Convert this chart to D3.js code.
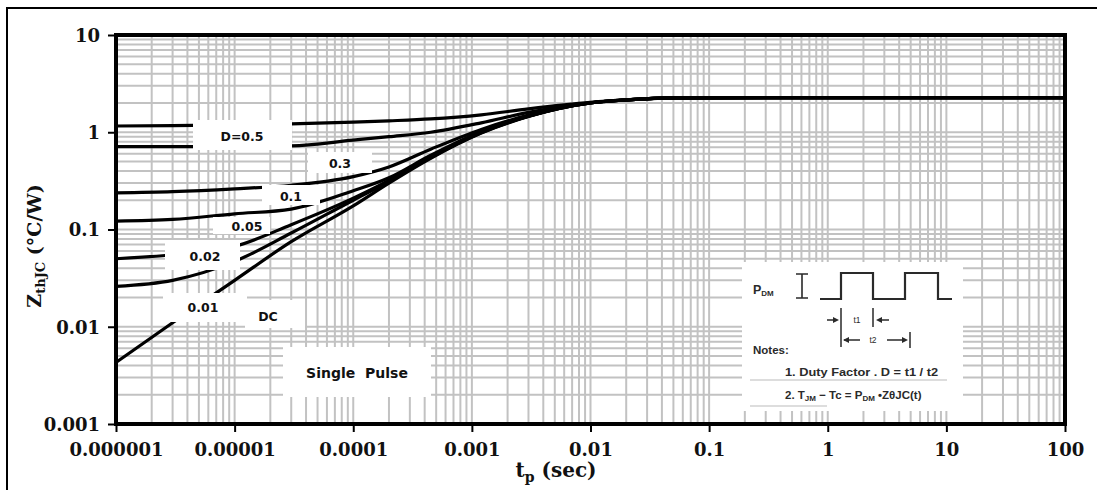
<!DOCTYPE html>
<html>
<head>
<meta charset="utf-8">
<script src="https://cdn.jsdelivr.net/npm/d3@7"></script>
<style>
  html, body { margin: 0; padding: 0; background: #fff; }
  svg { display: block; }
</style>
</head>
<body>
<svg id="chart" width="1097" height="490"></svg>
<script>
// ---------------- DATA ----------------
const xTicks = [1e-6, 1e-5, 1e-4, 1e-3, 1e-2, 1e-1, 1, 10, 100];
const xTickLabels = ["0.000001", "0.00001", "0.0001", "0.001", "0.01", "0.1", "1", "10", "100"];
const yTicks = [0.001, 0.01, 0.1, 1, 10];
const yTickLabels = ["0.001", "0.01", "0.1", "1", "10"];

const seriesNames = ["D=0.5", "0.3", "0.1", "0.05", "0.02", "0.01", "DC"];
const tp = [1e-6, 3e-6, 1e-5, 3e-5, 1e-4, 2e-4, 4.5e-4, 1.2e-3, 3e-3, 1e-2, 2e-2, 5e-2, 1, 100];
const zD05 = [1.16, 1.17, 1.19, 1.22, 1.27, 1.31, 1.37, 1.51, 1.74, 2.03, 2.15, 2.26, 2.27, 2.27];
const zD03 = [0.71, 0.71, 0.715, 0.725, 0.83, 0.90, 1.00, 1.25, 1.60, 2.01, 2.15, 2.26, 2.27, 2.27];
const zD01 = [0.238, 0.245, 0.262, 0.285, 0.35, 0.44, 0.67, 1.07, 1.50, 2.01, 2.15, 2.26, 2.27, 2.27];
const zD005 = [0.122, 0.127, 0.145, 0.162, 0.25, 0.34, 0.58, 1.02, 1.47, 2.00, 2.15, 2.26, 2.27, 2.27];
const zD002 = [0.050, 0.055, 0.067, 0.112, 0.21, 0.32, 0.56, 1.00, 1.46, 2.00, 2.15, 2.26, 2.27, 2.27];
const zD001 = [0.026, 0.030, 0.047, 0.092, 0.20, 0.31, 0.55, 0.99, 1.46, 2.00, 2.15, 2.26, 2.27, 2.27];
const zDC = [0.0043, 0.011, 0.030, 0.075, 0.175, 0.30, 0.54, 0.98, 1.45, 2.00, 2.15, 2.26, 2.27, 2.27];
const seriesValues = [zD05, zD03, zD01, zD005, zD002, zD001, zDC];

// ---------------- LAYOUT ----------------
const svg = d3.select("#chart");
const L = 116, R = 1065, T = 35, B = 424;
const x = d3.scaleLog().domain([1e-6, 100]).range([L, R]);
const y = d3.scaleLog().domain([0.001, 10]).range([B, T]);

svg.append("rect").attr("width", 1097).attr("height", 490).attr("fill", "#fff");
// outer border
svg.append("rect").attr("x", 7).attr("y", 8).attr("width", 1200).attr("height", 600)
  .attr("fill", "none").attr("stroke", "#000").attr("stroke-width", 2);

// grid
const grid = svg.append("g").attr("stroke", "#c2c2c2").attr("stroke-width", 2);
x.ticks().forEach(v => {
  grid.append("line").attr("x1", x(v)).attr("x2", x(v)).attr("y1", T).attr("y2", B);
});
y.ticks().forEach(v => {
  grid.append("line").attr("x1", L).attr("x2", R).attr("y1", y(v)).attr("y2", y(v));
});

// curves
const line = d3.line().x(d => x(d[0])).y(d => y(d[1])).curve(d3.curveMonotoneX);
seriesValues.forEach((vals, i) => {
  svg.append("path")
    .datum(tp.map((t, j) => [t, vals[j]]))
    .attr("d", line)
    .attr("fill", "none")
    .attr("stroke", "#000")
    .attr("stroke-width", 3.2)
    .attr("stroke-linejoin", "round");
});

// label boxes (white) and texts
const boxes = [
  {x0: 193, x1: 292, y0: 120, y1: 150},
  {x0: 308, x1: 372, y0: 152, y1: 173},
  {x0: 262, x1: 320, y0: 185, y1: 205},
  {x0: 213, x1: 270, y0: 217, y1: 234},
  {x0: 165, x1: 240, y0: 240, y1: 270},
  {x0: 163, x1: 247, y0: 293, y1: 322},
  {x0: 245, x1: 305, y0: 300, y1: 328},
  {x0: 283, x1: 431, y0: 347, y1: 397},
  {x0: 742, x1: 963, y0: 262, y1: 411}
];
boxes.forEach(b => {
  svg.append("rect").attr("x", b.x0).attr("y", b.y0)
    .attr("width", b.x1 - b.x0).attr("height", b.y1 - b.y0).attr("fill", "#fff");
});
const labelPos = [[242, 136], [340, 163], [291, 196], [247, 226], [205, 256], [203, 307], [268, 316]];
seriesNames.forEach((n, i) => {
  svg.append("text").attr("x", labelPos[i][0]).attr("y", labelPos[i][1] + 4.5)
    .attr("text-anchor", "middle")
    .attr("font-family", "DejaVu Sans, sans-serif").attr("font-weight", "bold")
    .attr("font-size", 12.5).attr("fill", "#111").text(n);
});
svg.append("text").attr("x", 357).attr("y", 378).attr("text-anchor", "middle")
  .attr("font-family", "DejaVu Sans, sans-serif").attr("font-weight", "bold")
  .attr("font-size", 14).attr("fill", "#111").style("white-space", "pre").text("Single  Pulse");

// ---------------- INSET ----------------
const ins = svg.append("g");
const ink = "#2a2a2a";
ins.append("text").attr("x", 753).attr("y", 294).attr("font-family", "Liberation Sans, Arial, sans-serif")
  .attr("font-weight", "bold").attr("font-size", 12.5).attr("fill", ink)
  .call(t => { t.append("tspan").text("P"); t.append("tspan").attr("font-size", 8).attr("dy", 2).text("DM"); });
// I-beam
ins.append("path").attr("d", "M796,274H808M802,274V298M796,298H808").attr("stroke", ink).attr("stroke-width", 1.6).attr("fill", "none");
// waveform
ins.append("path").attr("d", "M820,299H841V273H873V299H905V273H938V299H952")
  .attr("stroke", ink).attr("stroke-width", 2.2).attr("fill", "none");
// t1 / t2 markers
ins.append("path").attr("d", "M841,308V347M873,308V327M910,332V348M827,320H837M889,320H878M860,340H844M887,340H906")
  .attr("stroke", ink).attr("stroke-width", 1.5).attr("fill", "none");
const arrowHead = (px, py, dir) => {
  ins.append("path").attr("d", `M${px},${py}L${px - dir * 6},${py - 3}L${px - dir * 6},${py + 3}Z`).attr("fill", ink);
};
arrowHead(839, 320, 1); arrowHead(876, 320, -1); arrowHead(843, 340, -1); arrowHead(908, 340, 1);
ins.append("text").attr("x", 857).attr("y", 323).attr("text-anchor", "middle")
  .attr("font-family", "Liberation Sans, Arial, sans-serif").attr("font-size", 8.5).attr("fill", ink).text("t1");
ins.append("text").attr("x", 873).attr("y", 343).attr("text-anchor", "middle")
  .attr("font-family", "Liberation Sans, Arial, sans-serif").attr("font-size", 8.5).attr("fill", ink).text("t2");
ins.append("text").attr("x", 753).attr("y", 354).attr("font-family", "Liberation Sans, Arial, sans-serif")
  .attr("font-weight", "bold").attr("font-size", 11.5).attr("fill", ink).text("Notes:");
ins.append("text").attr("x", 785).attr("y", 376).attr("font-family", "Liberation Sans, Arial, sans-serif")
  .attr("font-weight", "bold").attr("font-size", 11.5).attr("fill", ink)
  .attr("textLength", 153).attr("lengthAdjust", "spacingAndGlyphs").text("1. Duty Factor . D = t1 / t2");
ins.append("text").attr("x", 785).attr("y", 399).attr("font-family", "Liberation Sans, Arial, sans-serif")
  .attr("font-weight", "bold").attr("font-size", 11.5).attr("fill", ink)
  .call(t => {
    t.append("tspan").text("2. T");
    t.append("tspan").attr("font-size", 8).attr("dy", 2).text("JM");
    t.append("tspan").attr("dy", -2).text(" \u2212 Tc = P");
    t.append("tspan").attr("font-size", 8).attr("dy", 2).text("DM");
    t.append("tspan").attr("dy", -2).text(" \u2022Z\u03B8JC(t)");
  });
ins.append("line").attr("x1", 750).attr("x2", 947).attr("y1", 380).attr("y2", 380).attr("stroke", "#bbb").attr("stroke-width", 1.2);
ins.append("line").attr("x1", 750).attr("x2", 827).attr("y1", 406).attr("y2", 406).attr("stroke", "#bbb").attr("stroke-width", 1.2);

// ---------------- AXES ----------------
const xAxis = d3.axisBottom(x).tickValues(xTicks).tickFormat((d, i) => xTickLabels[i]).tickSize(8).tickPadding(11);
const yAxis = d3.axisLeft(y).tickValues(yTicks).tickFormat((d, i) => yTickLabels[i]).tickSize(8).tickPadding(8);
const gx = svg.append("g").attr("transform", `translate(0,${B})`).call(xAxis);
const gy = svg.append("g").attr("transform", `translate(${L},0)`).call(yAxis);
[gx, gy].forEach(g => {
  g.select(".domain").remove();
  g.selectAll(".tick line").attr("stroke", "#000").attr("stroke-width", 2);
  g.selectAll(".tick text").attr("font-family", "DejaVu Serif, serif").attr("font-weight", "bold")
    .attr("font-size", 18).attr("fill", "#111");
});
gy.selectAll(".tick text").attr("dy", "0.36em");

// frame
svg.append("rect").attr("x", L).attr("y", T).attr("width", R - L).attr("height", B - T)
  .attr("fill", "none").attr("stroke", "#000").attr("stroke-width", 4);

// axis titles
svg.append("text").attr("transform", "translate(41,246) rotate(-90)").attr("text-anchor", "middle")
  .attr("font-family", "DejaVu Serif, serif").attr("font-weight", "bold").attr("font-size", 19).attr("fill", "#111")
  .call(t => {
    t.append("tspan").text("Z");
    t.append("tspan").attr("font-size", 13).attr("dy", 4).text("thJC");
    t.append("tspan").attr("dy", -4).text(" (\u00B0C/W)");
  });
svg.append("text").attr("x", 556).attr("y", 477).attr("text-anchor", "middle")
  .attr("font-family", "DejaVu Serif, serif").attr("font-weight", "bold").attr("font-size", 20).attr("fill", "#111")
  .call(t => {
    t.append("tspan").text("t");
    t.append("tspan").attr("font-size", 14).attr("dy", 5).text("p");
    t.append("tspan").attr("dy", -5).text(" (sec)");
  });
</script>
</body>
</html>
